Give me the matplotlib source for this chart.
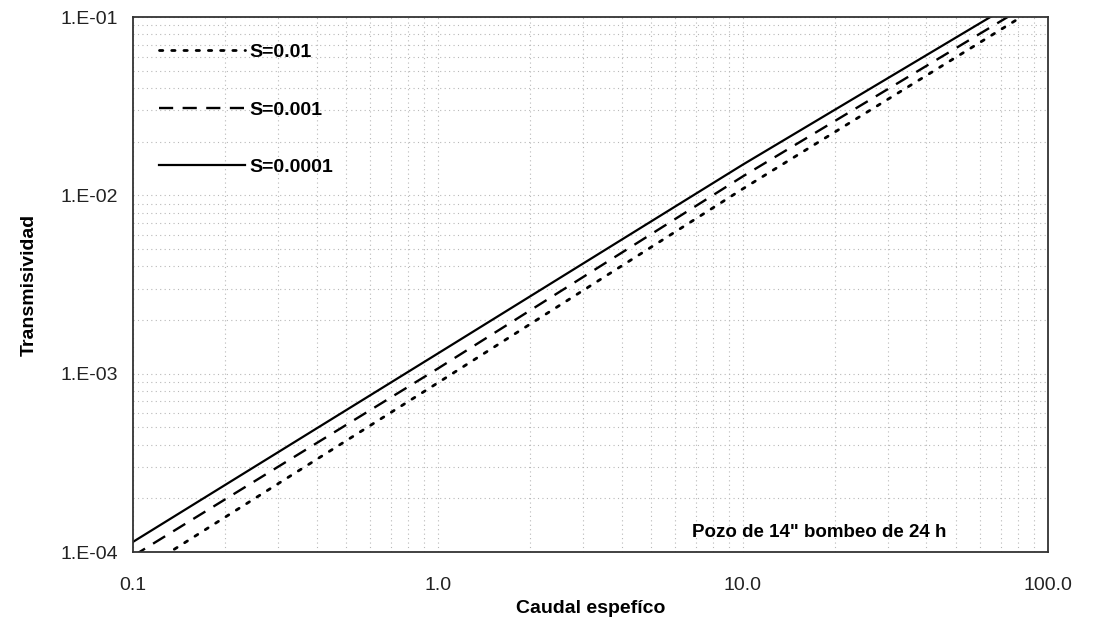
"""Transmisividad vs caudal especifico (log-log), three storage coefficients."""
import matplotlib
matplotlib.use("Agg")
import matplotlib.pyplot as plt
from matplotlib.ticker import FixedLocator, FixedFormatter, LogLocator, NullFormatter

plt.rcParams["font.family"] = ["Liberation Sans", "DejaVu Sans"]

# values
caudal = [0.1, 1.0, 10.0, 100.0]
t_s001 = [7.4e-5, 8.9e-4, 1.09e-2, 1.24e-1]
t_s0001 = [9.5e-5, 1.07e-3, 1.28e-2, 1.37e-1]
t_s00001 = [1.14e-4, 1.30e-3, 1.49e-2, 1.56e-1]

x_ticks = [0.1, 1.0, 10.0, 100.0]
x_labels = ["0.1", "1.0", "10.0", "100.0"]
y_ticks = [1e-4, 1e-3, 1e-2, 1e-1]
y_labels = ["1.E-04", "1.E-03", "1.E-02", "1.E-01"]

fig = plt.figure(figsize=(10.97, 6.36), dpi=100)
ax = fig.add_axes([0.1212, 0.132, 0.834, 0.841])

ax.plot(caudal, t_s001, color="black", linestyle=(0, (1.2, 3.2)), linewidth=2.0,
        dash_capstyle="round", label="S=0.01")
ax.plot(caudal, t_s0001, color="black", linestyle=(0, (6, 4)), linewidth=1.7,
        label="S=0.001")
ax.plot(caudal, t_s00001, color="black", linestyle="-", linewidth=1.6,
        label="S=0.0001")

ax.set_xscale("log")
ax.set_yscale("log")
ax.set_xlim(0.1, 100)
ax.set_ylim(1e-4, 1e-1)

ax.xaxis.set_major_locator(FixedLocator(x_ticks))
ax.xaxis.set_major_formatter(FixedFormatter(x_labels))
ax.yaxis.set_major_locator(FixedLocator(y_ticks))
ax.yaxis.set_major_formatter(FixedFormatter(y_labels))
ax.xaxis.set_minor_locator(LogLocator(base=10, subs=range(2, 10)))
ax.yaxis.set_minor_locator(LogLocator(base=10, subs=range(2, 10)))
ax.xaxis.set_minor_formatter(NullFormatter())
ax.yaxis.set_minor_formatter(NullFormatter())

ax.grid(True, which="both", color="#b8b8b8", linestyle=(0, (1, 3)), linewidth=0.8)
ax.tick_params(which="both", length=0)
ax.tick_params(axis="x", labelsize=14, pad=18, colors="#222222")
ax.tick_params(axis="y", labelsize=14, pad=11, colors="#222222")
for sp in ax.spines.values():
    sp.set_linewidth(1.3)
    sp.set_color("#333333")

ax.set_xlabel("Caudal espefíco", fontsize=14, fontweight="bold", labelpad=4)
ax.set_ylabel("Transmisividad", fontsize=14, fontweight="bold", labelpad=16)

ax.legend(loc="upper left", frameon=False, handlelength=4.4,
          handletextpad=0.25, labelspacing=2.05, borderaxespad=0.85,
          borderpad=0.5, prop={"weight": "bold", "size": 14})

ax.text(0.75, 0.037, "Pozo de 14\" bombeo de 24 h", transform=ax.transAxes,
        ha="center", va="center", fontsize=13.5, fontweight="bold")

fig.savefig("out.png", dpi=100, facecolor="white")
